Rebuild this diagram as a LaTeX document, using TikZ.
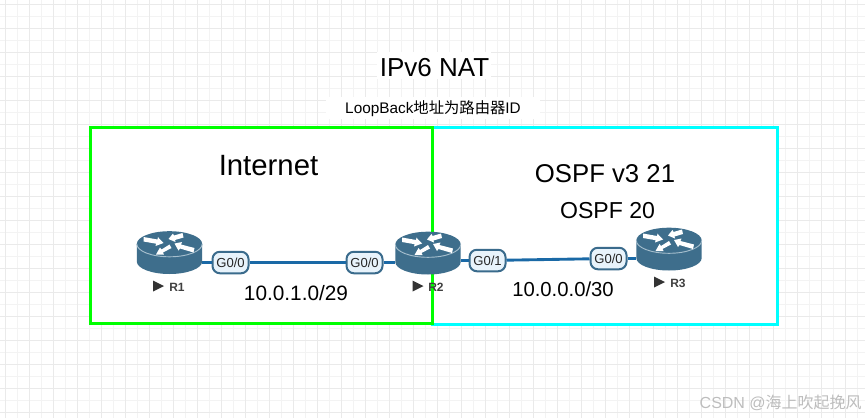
\documentclass[tikz,border=0pt]{standalone}
\usepackage{fontspec}
\setmainfont{Liberation Sans}
\newfontfamily\cjk{Noto Sans CJK SC}
\definecolor{gridminor}{HTML}{F3F3F3}
\definecolor{gridmajor}{HTML}{EAEAEA}
\definecolor{routerblue}{HTML}{3E6E8C}
\definecolor{routerrim}{HTML}{A5BECD}
\definecolor{linkblue}{HTML}{1A69A6}
\definecolor{pillfill}{HTML}{E8F3FB}
\definecolor{pillline}{HTML}{3A6B8C}
\definecolor{marktext}{HTML}{BDBDBD}
\definecolor{zonegreen}{HTML}{00FF00}
\definecolor{zonecyan}{HTML}{00FFFF}
\tikzset{
  routerbox/.style={minimum width=65.5*0.75pt,minimum height=43*0.75pt,inner sep=0pt,outer sep=0pt},
  pill/.style={draw=pillline,fill=pillfill,line width=1.5pt,rounded corners=5.5pt,minimum width=36*0.75pt,minimum height=21.5*0.75pt,inner sep=0pt,font=\fontsize{9.8pt}{10pt}\selectfont,text=black!85},
  link/.style={draw=linkblue,line width=2.15pt},
  zone/.style={line width=2.25pt,fill=white},
  rlabel/.style={font=\bfseries\fontsize{9pt}{10pt}\selectfont,text=black!75,inner sep=0pt},
  arrowwhite/.style={fill=white,draw=none},
  pics/router/.style={code={
    \fill[routerblue] (-32.7,-8.5) -- (-32.7,9) arc[start angle=180,end angle=0,x radius=32.7,y radius=12.5] -- (32.7,-8.5) -- cycle;
    \fill[routerblue] (0,-8.5) ellipse[x radius=32.7,y radius=12.8];
    \draw[routerrim,line width=0.7pt] (-32.7,-8.5) arc[start angle=180,end angle=0,x radius=32.7,y radius=12.8];
    \fill[arrowwhite] (-26,-15.5) -- (-12,-13) -- (-11.5,-15.3) -- (-6,-9.5) -- (-14,-6.5) -- (-13.4,-8.8) -- (-26,-11) -- cycle;
    \fill[arrowwhite] (13,-19.5) -- (4.5,-17) -- (3.5,-19) -- (-1,-13.5) -- (6,-10.5) -- (5.5,-12.5) -- (14,-15) -- cycle;
    \fill[arrowwhite] (25,-4.5) -- (11.5,-8) -- (12.5,-10.5) -- (5,-9) -- (9,-2) -- (10.5,-4) -- (24,0) -- cycle;
    \fill[arrowwhite] (0,-8) -- (-8,-3) -- (-9.5,-5) -- (-13.5,2) -- (-5.5,2) -- (-6.5,0) -- (2,-4.5) -- cycle;
  }},
  pics/tag/.style={code={\fill[black!80] (0,-5.5) -- (11,0) -- (0,5.5) -- cycle;}}
}
\begin{document}
\begin{tikzpicture}[x=0.75pt,y=-0.75pt]
\useasboundingbox (0,0) rectangle (865,418);
\fill[white] (0,0) rectangle (865,418);
% grid
\foreach \k in {0,...,71} {\pgfmathsetmacro{\xx}{5+12*\k}\draw[gridminor,line width=0.75pt] (\xx,0) -- (\xx,418);}
\foreach \k in {0,...,34} {\pgfmathsetmacro{\yy}{4+12*\k}\draw[gridminor,line width=0.75pt] (0,\yy) -- (865,\yy);}
\foreach \k in {0,...,35} {\pgfmathsetmacro{\xx}{5+24*\k}\draw[gridmajor,line width=0.75pt] (\xx,0) -- (\xx,418);}
\foreach \k in {0,...,17} {\pgfmathsetmacro{\yy}{4+24*\k}\draw[gridmajor,line width=0.75pt] (0,\yy) -- (865,\yy);}
% title plates
\fill[white] (377,52) rectangle (491,79);
\fill[white] (326,97) rectangle (540,119);
% zones
\node[draw=zonecyan,zone,minimum width=345*0.75pt,minimum height=197*0.75pt,inner sep=0pt,outer sep=0pt] (zoneB) at (605,226) {};
\node[draw=zonegreen,zone,minimum width=342*0.75pt,minimum height=196*0.75pt,inner sep=0pt,outer sep=0pt] (zoneA) at (261.5,225.5) {};
% texts
\node[font=\fontsize{19.5pt}{22pt}\selectfont,inner sep=0pt] (title) at (434.5,67.5) {IPv6 NAT};
\node[font=\fontsize{11.5pt}{13pt}\selectfont,inner sep=0pt] (sub) at (433,108.5) {LoopBack{\cjk 地址为路由器}ID};
\node[font=\fontsize{22pt}{24pt}\selectfont,inner sep=0pt] (inet) at (268.5,166) {Internet};
\node[font=\fontsize{19.3pt}{22pt}\selectfont,inner sep=0pt] (ospf3) at (605,174) {OSPF v3 21};
\node[font=\fontsize{17.3pt}{20pt}\selectfont,inner sep=0pt] (ospf2) at (607.5,210.5) {OSPF 20};
\node[font=\fontsize{15.6pt}{18pt}\selectfont,inner sep=0pt] (netA) at (296,293) {10.0.1.0/29};
\node[font=\fontsize{15.2pt}{18pt}\selectfont,inner sep=0pt] (netB) at (563,289) {10.0.0.0/30};
% routers
\node[routerbox] (R1) at (169.5,252.5) {};
\node[routerbox] (R2) at (428,253) {};
\node[routerbox] (R3) at (669,249) {};
% interface pills
\node[pill] (p1) at (230.5,262.5) {G0/0};
\node[pill] (p2) at (364.5,262.5) {G0/0};
\node[pill] (p3) at (487.5,260.5) {G0/1};
\node[pill] (p4) at (608.5,258.5) {G0/0};
\coordinate (R1a) at (R1.east |- p1);
\coordinate (R2a) at (R2.west |- p2);
\coordinate (R2b) at (R2.east |- p3);
\coordinate (R3a) at (R3.west |- p4);
\draw[link] (R1a) -- (p1);
\draw[link] (p1) -- (p2);
\draw[link] (p2) -- (R2a);
\draw[link] (R2b) -- (p3);
\draw[link] (p3) -- (p4);
\draw[link] (p4) -- (R3a);
\pic at (R1) {router};
\pic at (R2) {router};
\pic at (R3) {router};
% router labels
\pic at (153,286) {tag};
\node[rlabel,anchor=west] (l1) at (169,287) {R1};
\pic at (412.5,286) {tag};
\node[rlabel,anchor=west] (l2) at (428,287) {R2};
\pic at (654,282) {tag};
\node[rlabel,anchor=west] (l3) at (670,283) {R3};
% watermark
\node[font=\fontsize{12pt}{14pt}\selectfont,text=marktext,inner sep=0pt,anchor=east] (mark) at (862,403) {CSDN @{\cjk 海上吹起挽风}};
\end{tikzpicture}
\end{document}
